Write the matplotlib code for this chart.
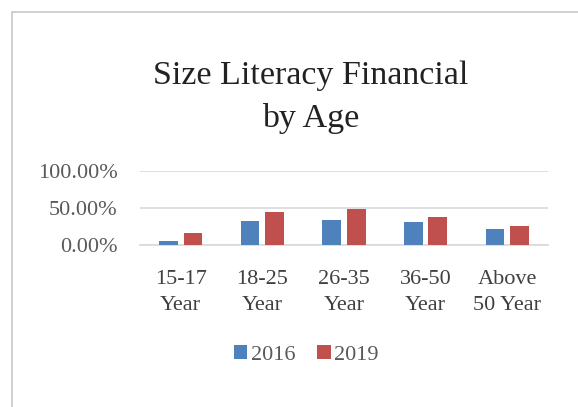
import numpy as np
import matplotlib.pyplot as plt
from matplotlib.patches import Rectangle

categories = ['15-17\nYear', '18-25\nYear', '26-35\nYear', '36-50\nYear', 'Above\n50 Year']
vals_2016 = [0.05, 0.33, 0.34, 0.31, 0.21]
vals_2019 = [0.16, 0.45, 0.49, 0.38, 0.26]
series = ['2016', '2019']
yticks = [0.0, 0.5, 1.0]
ytick_labels = ['0.00%', '50.00%', '100.00%']

plt.rcParams['font.family'] = ['Liberation Serif', 'DejaVu Serif']

fig = plt.figure(figsize=(5.78, 4.07), dpi=100)
fig.patches.append(Rectangle((0.02, -0.1), 1.2, 1.07, transform=fig.transFigure,
                             fill=False, edgecolor='#c8c8c8', linewidth=1.2))

ax = fig.add_axes([0.242, 0.398, 0.706, 0.182])
x = np.arange(len(categories))
w = 0.23
b1 = ax.bar(x - 0.15, vals_2016, w, color='#4F81BD', label=series[0], zorder=3)
b2 = ax.bar(x + 0.15, vals_2019, w, color='#C0504D', label=series[1], zorder=3)

ax.set_xlim(-0.5, len(categories) - 0.5)
ax.set_ylim(0, 1.0)
ax.set_yticks(yticks)
ax.set_yticklabels(ytick_labels, fontsize=16, color='#595959')
ax.set_xticks(x)
ax.set_xticklabels(categories, fontsize=16, color='#404040', linespacing=1.5)
ax.tick_params(axis='both', length=0)
ax.tick_params(axis='x', pad=18)
ax.tick_params(axis='y', pad=16)
ax.grid(axis='y', color='#d9d9d9', linewidth=1.2, zorder=0)
ax.set_axisbelow(True)
for s in ['top', 'right', 'left']:
    ax.spines[s].set_visible(False)
ax.spines['bottom'].set_color('#d9d9d9')
ax.spines['bottom'].set_linewidth(1.2)

fig.text(0.537, 0.76, 'Size Literacy Financial\nby Age', ha='center', va='center',
         fontsize=24.5, color='#222222', linespacing=1.5)

fig.legend(handles=[b1, b2], labels=series, loc='center', bbox_to_anchor=(0.53, 0.128),
           ncol=2, frameon=False, fontsize=16, handlelength=0.6, handleheight=0.6,
           handletextpad=0.15, columnspacing=1.0, labelcolor='#595959')

fig.savefig('out.png', dpi=100, facecolor='white')
